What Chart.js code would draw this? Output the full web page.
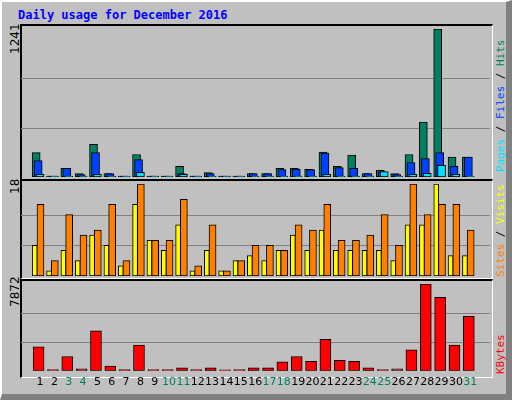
<!DOCTYPE html>
<html><head><meta charset="utf-8">
<script src="https://cdn.jsdelivr.net/npm/chart.js@4/dist/chart.umd.min.js"></script>
<style>
html,body{margin:0;padding:0;background:#fff;}
#frame{position:absolute;left:0;top:0;width:504px;height:392px;background:#c0c0c0;border-left:2px solid #fff;border-top:2px solid #fff;border-right:6px solid #808080;border-bottom:6px solid #808080;box-sizing:content-box}
.panel{position:absolute;left:20px;width:470px;border-left:2px solid #000;border-top:2px solid #000;border-right:1px solid #fff;border-bottom:1px solid #fff;}
canvas{position:absolute}
.t{position:absolute;font-family:"DejaVu Sans Mono",monospace;font-size:12px;white-space:nowrap}
.rot{transform-origin:0 0;transform:rotate(-90deg)}
</style></head><body>
<div id="frame"></div>
<div class="t" style="left:18px;top:8px;color:#0000ff;font-weight:bold">Daily usage for December 2016</div>
<div class="panel" style="top:24px;height:153px"></div>
<div class="panel" style="top:179px;height:97px"></div>
<div class="panel" style="top:279px;height:96px"></div>
<div class="t rot" style="left:8px;top:54px;font-family:'DejaVu Sans';">1241</div>
<div class="t rot" style="left:8px;top:194px;font-family:'DejaVu Sans';">18</div>
<div class="t rot" style="left:8px;top:307px;font-family:'DejaVu Sans';">7872</div>
<div class="t rot" style="left:494px;top:172px;font-size:11px"><span style="color:#00e0ff">Pages</span><span style="color:#000"> / </span><span style="color:#0040ff">Files</span><span style="color:#000"> / </span><span style="color:#008060">Hits</span></div>
<div class="t rot" style="left:494px;top:277px;font-size:11px"><span style="color:#ff8000">Sites</span><span style="color:#000"> / </span><span style="color:#ffff00">Visits</span></div>
<div class="t rot" style="left:494px;top:374px;font-size:11px;color:#ff0000">KBytes</div>
<canvas id="c1" style="left:21px;top:29px;width:469px;height:148px"></canvas>
<canvas id="c2" style="left:21px;top:184px;width:469px;height:92px"></canvas>
<canvas id="c3" style="left:21px;top:284px;width:469px;height:110px"></canvas>
<script>
const days = Array.from({length:31},(_,i)=>i+1);
const weekend = [3,4,10,11,17,18,24,25,31];
const hits   = [205,0,73,28,273,28,0,189,0,0,90,0,37,0,0,28,28,73,73,65,208,90,183,28,56,28,189,461,1241,166,166];
const files  = [138,0,73,20,205,28,0,146,0,0,28,0,28,0,0,28,28,62,67,62,200,79,73,28,40,20,121,155,205,90,166];
const pages  = [22,0,2,5,22,3,0,39,0,0,22,0,3,0,0,2,2,2,2,2,22,2,2,2,45,2,22,31,98,22,2];
const sites  = [6,1,5,3,8,6,2,14,7,5,10,1,5,1,3,4,3,5,8,5,9,5,5,5,5,3,10,10,18,4,4];
const visits = [14,3,12,8,9,14,3,18,7,7,15,2,10,1,3,6,6,5,10,9,14,7,7,8,12,6,18,12,14,14,9];
const kbytes = [2163,115,1298,173,3633,433,115,2336,115,115,260,115,260,0,115,260,260,807,1298,865,2855,952,865,260,115,173,1903,7872,6661,2336,4931];
const maxTop = 1241, maxMid = 18, maxBot = 7872;

Chart.defaults.animation = false;
Chart.defaults.devicePixelRatio = 1;
const grid = {id:'grid', beforeDatasetsDraw(c){
  const y=c.scales.y, ctx=c.ctx, a=c.chartArea;
  ctx.save(); ctx.strokeStyle='#808080'; ctx.lineWidth=1;
  [1,2].forEach(k=>{const p=Math.round(y.getPixelForValue(y.max*k/3))+0.5;
    ctx.beginPath(); ctx.moveTo(a.left,p); ctx.lineTo(a.right,p); ctx.stroke();});
  ctx.restore();}};
function ds(vals, off, color, w, order){
  return {data: vals.map((v,i)=>({x:days[i]+off,y:v})), backgroundColor:color, order,
    borderColor:'#000', borderWidth:1, barThickness:w, grouped:false, minBarLength:1, borderSkipped:false};
}
function opts(max, showX){
  return {responsive:false, maintainAspectRatio:false,
    layout:{padding:0},
    plugins:{legend:{display:false},tooltip:{enabled:false}},
    scales:{
      x:{type:'linear',min:0.2,max:31.85,display:showX,
        grid:{display:false,drawTicks:false},border:{display:false},
        afterBuildTicks(s){s.ticks=days.map(d=>({value:d}));},
        ticks:{autoSkip:false,maxRotation:0,padding:5,
          font:{family:'DejaVu Sans',size:11},
          color:(c)=>weekend.includes(c.tick.value)?'#008060':'#000',
          callback:(v)=>days.includes(v)?String(v):''}},
      y:{display:false,min:0,max:max}
    }};
}
function mk(id,w,h,datasets,max,showX){
  const el=document.getElementById(id); el.width=w; el.height=h;
  new Chart(el,{type:'bar',data:{datasets},options:opts(max,showX),plugins:[grid]});
}
mk('c1',469,148,[ds(hits,-0.27,'#008060',8,2),ds(files,-0.13,'#0040ff',8,1),ds(pages,0,'#00e0ff',8,0)],maxTop,false);
mk('c2',469,92,[ds(sites,-0.37,'#ffff00',5,1),ds(visits,0.03,'#ff8000',7,0)],maxMid,false);
mk('c3',469,110,[ds(kbytes,-0.1,'#ff0000',11,0)],maxBot,true);
</script></body></html>
